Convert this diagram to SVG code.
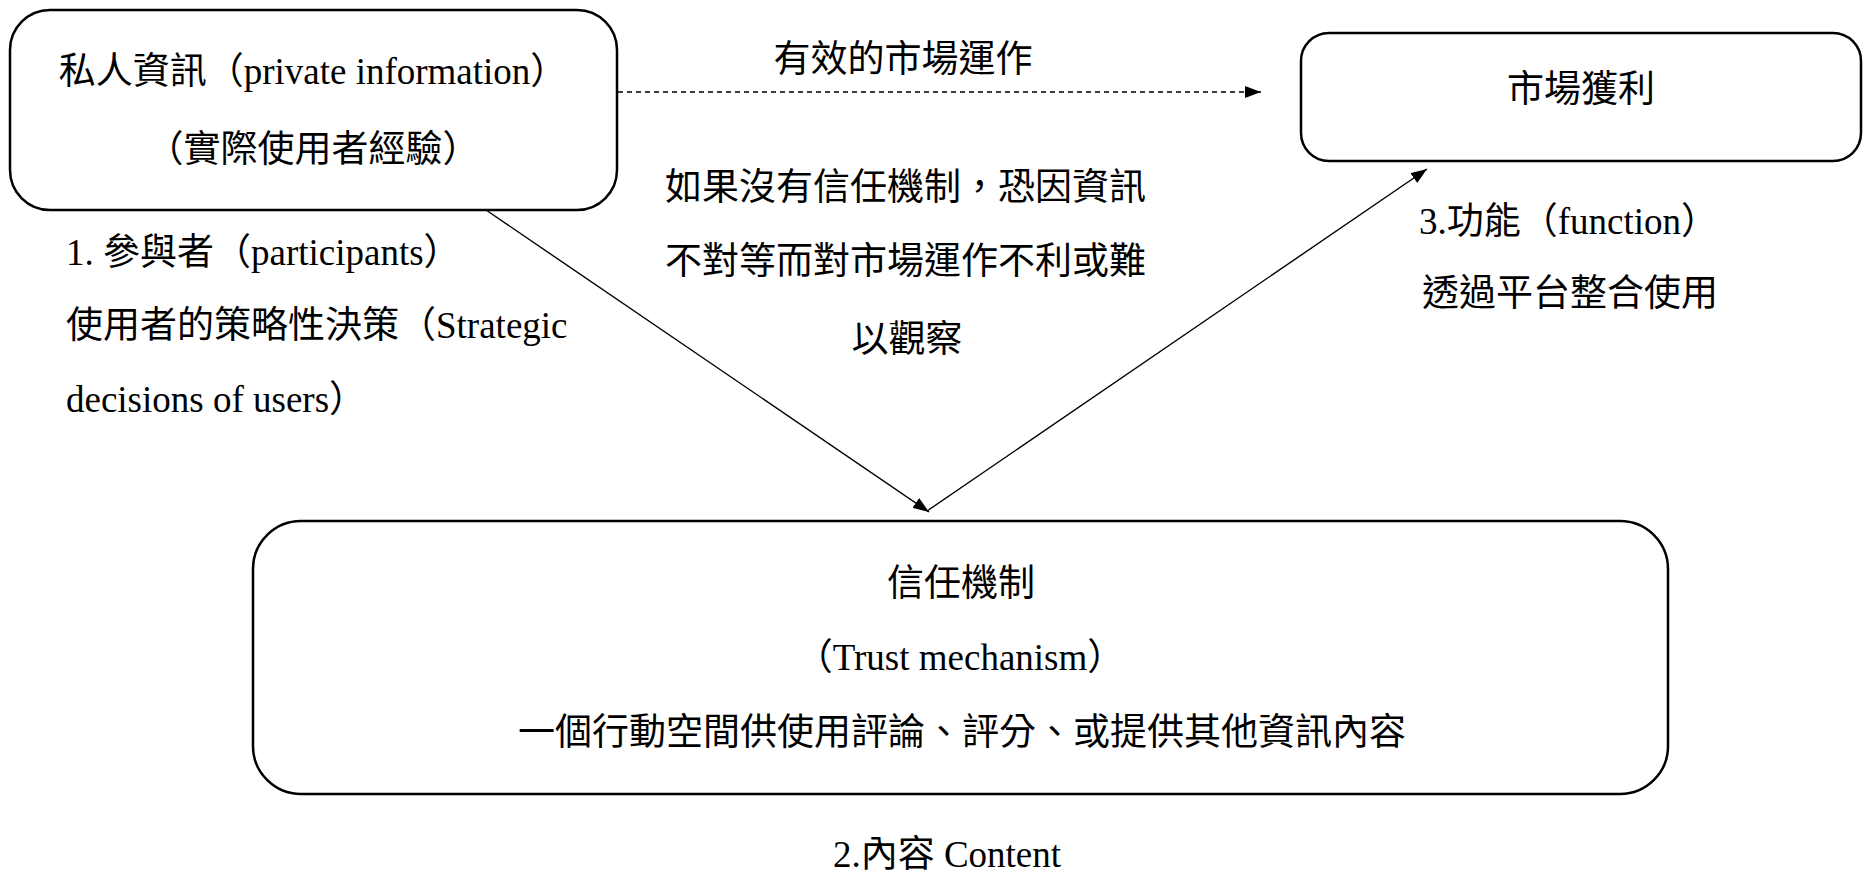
<svg xmlns="http://www.w3.org/2000/svg" width="1869" height="872" viewBox="0 0 1869 872">
  <style>
    .box { fill: #ffffff; stroke: #000000; stroke-width: 2.5; }
    .conn { fill: none; stroke: #000000; stroke-width: 1.4; }
    .dash { stroke-dasharray: 5 4; }
    text { font-family: "Liberation Serif", "Noto Sans CJK TC", serif; font-size: 37px; fill: #000000; }
    .mid { text-anchor: middle; }
  </style>
  <defs>
    <marker id="arrow" viewBox="0 0 16 12" refX="16" refY="6" markerWidth="16" markerHeight="12" markerUnits="userSpaceOnUse" orient="auto">
      <path d="M0,0 L16,6 L0,12 Z" fill="#000000"/>
    </marker>
  </defs>

  <rect width="1869" height="872" fill="#ffffff"/>

  <!-- connectors -->
  <g id="connectors">
    <line class="conn dash" x1="618" y1="92" x2="1261" y2="92" marker-end="url(#arrow)"/>
    <line class="conn" x1="486" y1="210" x2="929" y2="512" marker-end="url(#arrow)"/>
    <line class="conn" x1="927" y1="511" x2="1427" y2="169" marker-end="url(#arrow)"/>
  </g>

  <!-- private information -->
  <g id="node-private-info">
    <rect class="box" x="10" y="10" width="607" height="200" rx="40" ry="40"/>
    <text class="mid" x="313" y="84">私人資訊（private information）</text>
    <text class="mid" x="313" y="162">（實際使用者經驗）</text>
  </g>

  <!-- market profit -->
  <g id="node-market-profit">
    <rect class="box" x="1301" y="33" width="560" height="128" rx="28" ry="28"/>
    <text class="mid" x="1581" y="102">市場獲利</text>
  </g>

  <!-- trust mechanism -->
  <g id="node-trust">
    <rect class="box" x="253" y="521" width="1415" height="273" rx="48" ry="48"/>
    <text class="mid" x="961" y="596">信任機制</text>
    <text class="mid" x="960" y="670">（Trust mechanism）</text>
    <text class="mid" x="962" y="745">一個行動空間供使用評論、評分、或提供其他資訊內容</text>
  </g>

  <!-- edge labels and annotations -->
  <g id="label-effective">
    <text class="mid" x="903" y="72">有效的市場運作</text>
  </g>
  <g id="label-participants">
    <text x="66" y="265">1.  參與者（participants）</text>
    <text x="66" y="338">使用者的策略性決策（Strategic</text>
    <text x="66" y="412">decisions of users）</text>
  </g>
  <g id="label-asymmetry">
    <text x="665" y="200">如果沒有信任機制，恐因資訊</text>
    <text x="665" y="274">不對等而對市場運作不利或難</text>
    <text class="mid" x="907" y="352">以觀察</text>
  </g>
  <g id="label-function">
    <text x="1419" y="234">3.功能（function）</text>
    <text x="1422" y="306">透過平台整合使用</text>
  </g>
  <g id="label-content">
    <text class="mid" x="947" y="867">2.內容 Content</text>
  </g>
</svg>
